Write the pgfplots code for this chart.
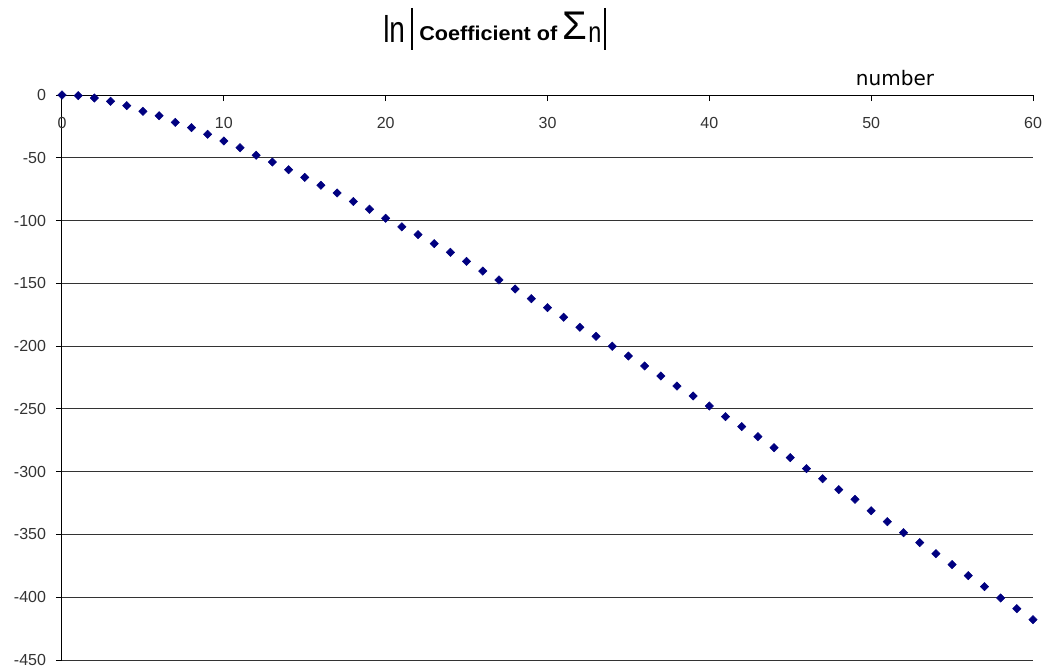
\documentclass[border=0pt]{standalone}
\usepackage{fontspec}
\setmainfont{Liberation Sans}
\newfontfamily\dejavu{DejaVu Sans}
\usepackage{pgfplots}
\pgfplotsset{compat=1.18}
\definecolor{navy}{RGB}{0,0,128}
\begin{document}
\begin{tikzpicture}
% picture frame: 1 px of the reference = 0.75pt
\useasboundingbox (-46.5pt,-6.75pt) rectangle (739.5pt,495pt);
\begin{axis}[
    width=728.25pt, height=423.75pt, scale only axis,
    xmin=0, xmax=60, ymin=-450, ymax=0,
    axis x line=middle, axis y line=left,
    axis line style={-, black, line width=0.75pt},
    hide obscured x ticks=false, hide obscured y ticks=false,
    xtick={0,10,...,60}, ytick={-450,-400,...,0},
    ymajorgrids, grid style={black!80, line width=0.75pt},
    major tick length=4.5pt,
    xtick align=outside, ytick align=outside,
    tick style={black, line width=0.75pt},
    ticklabel style={font=\fontsize{12}{14}\selectfont, text=black!80},
    xticklabel style={yshift=-9pt},
    yticklabel style={xshift=-4pt},
    /pgf/number format/assume math mode=true,
    clip=false,
]
    \addplot[only marks, mark=square*, mark size=2.2pt,
        mark options={rotate=45, fill=navy, draw=navy}] coordinates {
        (0,0) (1,-0.5) (2,-2.4) (3,-5) (4,-8.5) (5,-13) (6,-16.5) (7,-21.8)
        (8,-26) (9,-31.3) (10,-36.6) (11,-42) (12,-48) (13,-53.4) (14,-59.5)
        (15,-65.6) (16,-71.9) (17,-78) (18,-84.8) (19,-91) (20,-98.2)
        (21,-105) (22,-111.2) (23,-118.4) (24,-125.3) (25,-132.5) (26,-140.2)
        (27,-147.3) (28,-154.5) (29,-162.2) (30,-169.4) (31,-177) (32,-185)
        (33,-192.2) (34,-200.1) (35,-207.9) (36,-215.8) (37,-223.8) (38,-231.8)
        (39,-239.7) (40,-247.7) (41,-256.2) (42,-264.1) (43,-272.1) (44,-280.9)
        (45,-288.8) (46,-297.6) (47,-305.6) (48,-314.3) (49,-322) (50,-331.1)
        (51,-339.8) (52,-348.6) (53,-356.5) (54,-365.3) (55,-374) (56,-382.8)
        (57,-391.6) (58,-400.6) (59,-409.1) (60,-417.9)
    };
    % axis name
    \node[anchor=base, font=\dejavu\fontsize{15}{18}\selectfont]
        at (rel axis cs:0.8579,1.0177) {number};
    % title: ln|Coefficient of Sigma_n|
    \node[anchor=base west, inner sep=0pt, font=\fontsize{28}{30}\selectfont]
        at (rel axis cs:0.3306,1.0938) {\scalebox{0.75}[1]{ln}};
    \draw[line width=1.1pt] (rel axis cs:0.3605,1.1540) -- (rel axis cs:0.3605,1.0796);
    \node[anchor=base west, inner sep=0pt, font=\bfseries\fontsize{15}{17}\selectfont]
        at (rel axis cs:0.3677,1.0973) {\scalebox{1.08}[1]{Coefficient of}};
    \node[anchor=base west, inner sep=0pt, font=\fontsize{30}{32}\selectfont]
        at (rel axis cs:0.5150,1.0991) {\scalebox{1.0}[1]{Σ}};
    \node[anchor=base west, inner sep=0pt, font=\fontsize{22}{24}\selectfont]
        at (rel axis cs:0.5417,1.0938) {\scalebox{0.8}[1]{n}};
    \draw[line width=1.1pt] (rel axis cs:0.5592,1.1540) -- (rel axis cs:0.5592,1.0796);
\end{axis}
\end{tikzpicture}
\end{document}
